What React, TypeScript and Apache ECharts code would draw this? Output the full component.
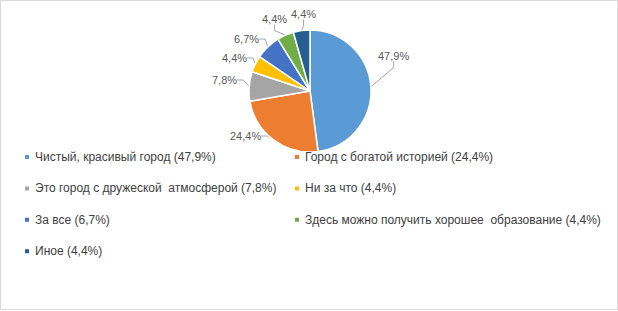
import React, { useEffect, useRef } from "react";
import * as echarts from "echarts";

const categories = [
  "Чистый, красивый город",
  "Город с богатой историей",
  "Это город с дружеской  атмосферой",
  "Ни за что",
  "За все",
  "Здесь можно получить хорошее  образование",
  "Иное",
];
const values = [47.9, 24.4, 7.8, 4.4, 6.7, 4.4, 4.4];
const colors = ["#5B9BD5", "#ED7D31", "#A5A5A5", "#FFC000", "#4472C4", "#70AD47", "#255E91"];

// label anchor positions (left edge, vertical middle) in pixels
const LABEL_POS: [number, number][] = [
  [378, 56],
  [230, 136],
  [212, 80],
  [222, 58],
  [234, 39],
  [262, 19],
  [291, 14],
];

const fmt = (v: number) => v.toFixed(1).replace(".", ",") + "%";

export default function App() {
  const ref = useRef<HTMLDivElement>(null);
  useEffect(() => {
    document.body.style.margin = "0";
    const chart = echarts.init(ref.current!, undefined, { renderer: "svg" });
    const data = categories.map((name, i) => ({ name, value: values[i] }));
    const valueOf = (name: string) => values[categories.indexOf(name)];
    const font = "'Liberation Sans', Arial, sans-serif";
    const legendCommon = {
      orient: "vertical" as const,
      icon: "rect",
      itemWidth: 6,
      itemHeight: 6,
      itemGap: 19.4,
      padding: 0,
      selectedMode: false,
      textStyle: { fontFamily: font, fontSize: 12, color: "#404040" },
      formatter: (name: string) => `${name} (${fmt(valueOf(name))})`,
    };
    chart.setOption({
      animation: false,
      color: colors,
      graphic: [
        {
          type: "rect",
          shape: { x: 0.5, y: 0.5, width: 617, height: 309 },
          style: { fill: "none", stroke: "#d9d9d9", lineWidth: 1 },
          silent: true,
        },
      ],
      legend: [
        { ...legendCommon, left: 23, top: 151, data: [categories[0], categories[2], categories[4], categories[6]] },
        { ...legendCommon, left: 293, top: 151, data: [categories[1], categories[3], categories[5]] },
      ],
      series: [
        {
          type: "pie",
          center: [310, 91],
          radius: 61,
          startAngle: 90,
          clockwise: true,
          data,
          itemStyle: { borderColor: "#fff", borderWidth: 1.5 },
          label: {
            show: true,
            formatter: (p: any) => fmt(p.value),
            fontFamily: font,
            fontSize: 11,
            color: "#595959",
          },
          labelLine: { show: true, length: 8, length2: 6, lineStyle: { color: "#a6a6a6", width: 1 } },
          labelLayout: (p: any) => ({
            x: LABEL_POS[p.dataIndex][0],
            y: LABEL_POS[p.dataIndex][1],
            align: "left",
            verticalAlign: "middle",
          }),
        },
      ],
    });
    return () => chart.dispose();
  }, []);
  return <div ref={ref} style={{ width: 618, height: 311 }} />;
}
